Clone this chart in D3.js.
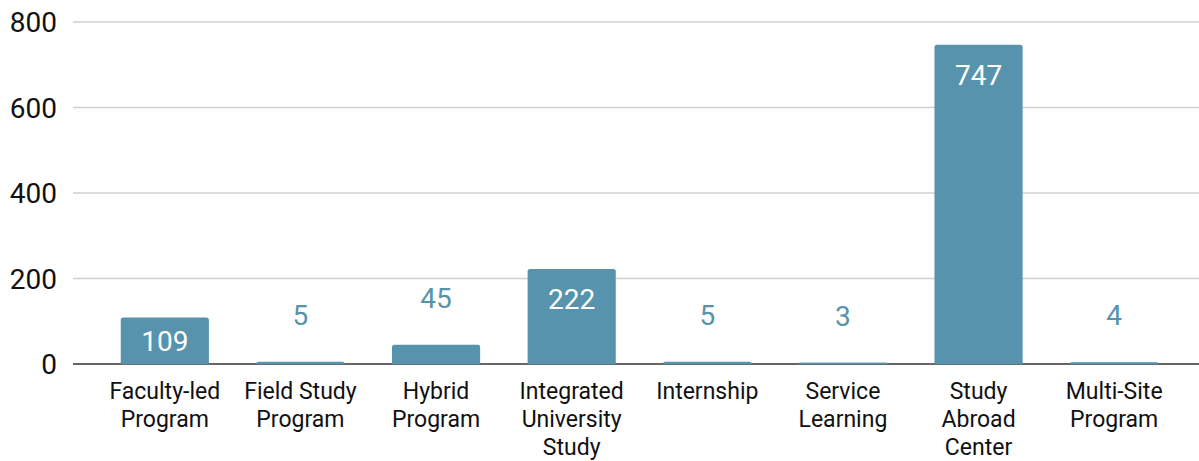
<!DOCTYPE html>
<html>
<head>
<meta charset="utf-8">
<script src="https://cdn.jsdelivr.net/npm/d3@7"></script>
<style>
  body { margin: 0; background: #fff; }
  text { font-family: Roboto, "Noto Sans", sans-serif; }
</style>
</head>
<body>
<svg width="1199" height="461"></svg>
<script>
const categories = [
  ['Faculty-led', 'Program'],
  ['Field Study', 'Program'],
  ['Hybrid', 'Program'],
  ['Integrated', 'University', 'Study'],
  ['Internship'],
  ['Service', 'Learning'],
  ['Study', 'Abroad', 'Center'],
  ['Multi-Site', 'Program']
];
const values = [109, 5, 45, 222, 5, 3, 747, 4];
const yTicks = [0, 200, 400, 600, 800];

const svg = d3.select('svg');
const width = +svg.attr('width');

const barColor = '#5793ad';

const x = d3.scaleBand()
  .domain(d3.range(categories.length))
  .range([97, 1182])
  .paddingInner(0.35)
  .paddingOuter(0.175);

const y = d3.scaleLinear()
  .domain([0, 800])
  .range([364, 22]);

// grid
svg.append('g')
  .selectAll('line')
  .data(yTicks.filter(d => d !== 0))
  .join('line')
    .attr('x1', 73)
    .attr('x2', width)
    .attr('y1', d => y(d))
    .attr('y2', d => y(d))
    .attr('stroke', '#d0d0d0')
    .attr('stroke-width', 1.5);

// y tick labels
svg.append('g')
  .selectAll('text')
  .data(yTicks)
  .join('text')
    .attr('x', 57)
    .attr('y', d => y(d) + 10)
    .attr('text-anchor', 'end')
    .attr('font-size', 28)
    .attr('fill', '#111')
    .text(d => d);

// bars
svg.append('g')
  .selectAll('path')
  .data(values)
  .join('path')
    .attr('fill', barColor)
    .attr('d', (d, i) => {
      const x0 = x(i), w = x.bandwidth();
      const top = y(d), bot = y(0);
      const r = Math.min(2.5, bot - top);
      return `M${x0},${bot}V${top + r}Q${x0},${top} ${x0 + r},${top}` +
             `H${x0 + w - r}Q${x0 + w},${top} ${x0 + w},${top + r}V${bot}Z`;
    });

// zero line
svg.append('line')
  .attr('x1', 73)
  .attr('x2', width)
  .attr('y1', y(0))
  .attr('y2', y(0))
  .attr('stroke', '#333')
  .attr('stroke-width', 1.5);

// bar colour over the zero line so tiny bars stay visible
svg.append('g')
  .selectAll('line')
  .data(values)
  .join('line')
    .attr('x1', (d, i) => x(i))
    .attr('x2', (d, i) => x(i) + x.bandwidth())
    .attr('y1', y(0) - 0.5)
    .attr('y2', y(0) - 0.5)
    .attr('stroke', barColor)
    .attr('stroke-width', 1.5);

// value labels
svg.append('g')
  .selectAll('text')
  .data(values)
  .join('text')
    .attr('x', (d, i) => x(i) + x.bandwidth() / 2)
    .attr('y', d => {
      const h = y(0) - y(d);
      if (h >= 80) return y(d) + 40;
      if (h >= 40) return y(d) + h / 2 + 10;
      return y(d) - 37;
    })
    .attr('text-anchor', 'middle')
    .attr('font-size', 28)
    .attr('fill', d => (y(0) - y(d) >= 40 ? '#fff' : barColor))
    .text(d => d);

// category labels
const cat = svg.append('g')
  .selectAll('text')
  .data(categories)
  .join('text')
    .attr('x', (d, i) => x(i) + x.bandwidth() / 2)
    .attr('y', 399)
    .attr('text-anchor', 'middle')
    .attr('font-size', 23)
    .attr('fill', '#111');

cat.selectAll('tspan')
  .data(d => d)
  .join('tspan')
    .attr('x', function () { return d3.select(this.parentNode).attr('x'); })
    .attr('dy', (d, i) => (i === 0 ? 0 : 28))
    .text(d => d);
</script>
</body>
</html>
